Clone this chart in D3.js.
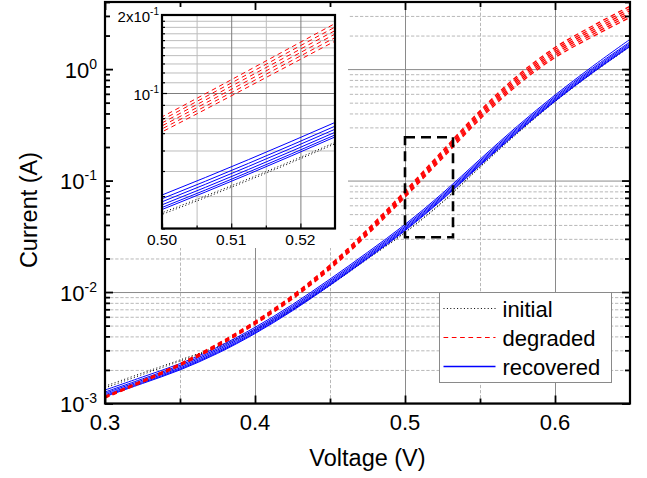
<!DOCTYPE html>
<html>
<head>
<meta charset="utf-8">
<script src="https://cdn.jsdelivr.net/npm/d3@7"></script>
<style>
  body { margin: 0; background: #fff; }
  svg { display: block; }
  text { font-family: "Liberation Sans", Arial, sans-serif; fill: #000; }
</style>
</head>
<body>
<svg id="chart" width="647" height="478"></svg>
<script>
// Bias points (V) shared by every I-V sweep
const voltage = [0.300, 0.325, 0.350, 0.375, 0.400, 0.425, 0.450, 0.475, 0.500, 0.525, 0.550, 0.575, 0.600, 0.625, 0.650];

// Current (A) of each cell, before stress
const initialRuns = [
  [1.43e-3, 1.88e-3, 2.46e-3, 3.25e-3, 4.62e-3, 7.05e-3, 0.01165, 0.02000, 0.0345, 0.0645, 0.1330, 0.268, 0.515, 0.930, 1.60],
  [1.38e-3, 1.82e-3, 2.40e-3, 3.18e-3, 4.52e-3, 6.90e-3, 0.01145, 0.01975, 0.0340, 0.0637, 0.1315, 0.265, 0.510, 0.920, 1.59]
];

// Current (A) after degradation
const degradedRuns = [
  [1.161e-3, 1.614e-3, 2.286e-3, 3.436e-3, 5.471e-3, 9.354e-3, 0.01754, 0.03664, 0.08091, 0.1854, 0.4237, 0.8729, 1.563, 2.438, 3.664],
  [1.153e-3, 1.601e-3, 2.265e-3, 3.398e-3, 5.400e-3, 9.209e-3, 0.01722, 0.03580, 0.07878, 0.1796, 0.4091, 0.8398, 1.499, 2.333, 3.500],
  [1.144e-3, 1.588e-3, 2.244e-3, 3.360e-3, 5.331e-3, 9.066e-3, 0.01691, 0.03499, 0.07669, 0.1741, 0.3951, 0.8080, 1.439, 2.232, 3.342],
  [1.136e-3, 1.575e-3, 2.224e-3, 3.324e-3, 5.263e-3, 8.925e-3, 0.01660, 0.03420, 0.07467, 0.1687, 0.3815, 0.7774, 1.380, 2.135, 3.192],
  [1.127e-3, 1.562e-3, 2.203e-3, 3.287e-3, 5.196e-3, 8.786e-3, 0.01629, 0.03342, 0.07271, 0.1635, 0.3684, 0.7479, 1.324, 2.043, 3.048],
  [1.119e-3, 1.549e-3, 2.183e-3, 3.251e-3, 5.129e-3, 8.650e-3, 0.01600, 0.03266, 0.07079, 0.1585, 0.3557, 0.7194, 1.270, 1.954, 2.911]
];

// Current (A) after recovery
const recoveredRuns = [
  [1.320e-3, 1.730e-3, 2.280e-3, 3.200e-3, 4.820e-3, 7.730e-3, 0.01307, 0.02271, 0.04040, 0.07698, 0.1553, 0.3086, 0.5853, 1.058, 1.850],
  [1.268e-3, 1.664e-3, 2.203e-3, 3.098e-3, 4.666e-3, 7.482e-3, 0.01265, 0.02198, 0.03908, 0.07447, 0.1503, 0.2986, 0.5663, 1.019, 1.754],
  [1.234e-3, 1.619e-3, 2.143e-3, 3.015e-3, 4.541e-3, 7.280e-3, 0.01231, 0.02138, 0.03803, 0.07247, 0.1462, 0.2905, 0.5510, 0.9913, 1.707],
  [1.201e-3, 1.576e-3, 2.086e-3, 2.934e-3, 4.420e-3, 7.086e-3, 0.01198, 0.02081, 0.03702, 0.07054, 0.1423, 0.2828, 0.5363, 0.9648, 1.662],
  [1.173e-3, 1.539e-3, 2.038e-3, 2.866e-3, 4.316e-3, 6.921e-3, 0.01170, 0.02033, 0.03615, 0.06889, 0.1390, 0.2762, 0.5238, 0.9423, 1.623],
  [1.152e-3, 1.512e-3, 2.001e-3, 2.815e-3, 4.240e-3, 6.798e-3, 0.01149, 0.01997, 0.03551, 0.06767, 0.1366, 0.2713, 0.5146, 0.9256, 1.594]
];

// Axis ticks
const xMajorTicks = [0.3, 0.4, 0.5, 0.6];
const xMinorTicks = [0.35, 0.45, 0.55];
const yDecadeTicks = [1e-3, 1e-2, 1e-1, 1e0];
const yDecadeExponents = ["-3", "-2", "-1", "0"];

// Inset ticks
const insetXMajorTicks = [0.50, 0.51, 0.52];
const insetXMinorTicks = [0.505, 0.515];
const insetYLabelTicks = [0.2, 0.1];
const insetYLabelMantissa = ["2x10", "10"];
const insetYMinorTicks = [0.03, 0.04, 0.05, 0.06, 0.07, 0.08, 0.09, 0.11, 0.12, 0.13, 0.14, 0.15, 0.16, 0.17, 0.18, 0.19];

// Region enlarged in the inset
const zoomVoltage = [0.500, 0.532];
const zoomCurrent = [0.031, 0.245];

const legendLabels = ["initial", "degraded", "recovered"];

const styles = {
  initial:   { color: "#000000", width: 1.0, dash: "1,2.4" },
  degraded:  { color: "#ff0000", width: 1.3, dash: "4.7,3.6" },
  recovered: { color: "#0000ff", width: 1.0, dash: null }
};

const svg = d3.select("#chart");

// ---------- main plot ----------
const x = d3.scaleLinear().domain([0.3, 0.65]).range([105, 630]);
const y = d3.scaleLog().domain([1e-3, 4]).range([403.5, 2]);
const [X0, X1] = x.range();
const [Y0, Y1] = y.range();

svg.append("defs").append("clipPath").attr("id", "mainClip")
  .append("rect").attr("x", X0).attr("y", Y1).attr("width", X1 - X0).attr("height", Y0 - Y1);

const isDecade = d => Math.abs(Math.log10(d) - Math.round(Math.log10(d))) < 1e-9;
const yMinor = y.ticks().filter(d => !isDecade(d));

const grid = svg.append("g");
// minor grid (dashed)
grid.append("g").call(d3.axisLeft(y).tickValues(yMinor).tickSize(-(X1 - X0)).tickFormat(""))
  .attr("transform", `translate(${X0},0)`)
  .call(g => g.select(".domain").remove())
  .call(g => g.selectAll("line").attr("stroke", "#b8b8b8").attr("stroke-dasharray", "3.3,1.8"));
grid.append("g").call(d3.axisBottom(x).tickValues(xMinorTicks).tickSize(-(Y0 - Y1)).tickFormat(""))
  .attr("transform", `translate(0,${Y0})`)
  .call(g => g.select(".domain").remove())
  .call(g => g.selectAll("line").attr("stroke", "#b8b8b8").attr("stroke-dasharray", "3.3,1.8"));
// major grid (solid)
grid.append("g").call(d3.axisLeft(y).tickValues(yDecadeTicks).tickSize(-(X1 - X0)).tickFormat(""))
  .attr("transform", `translate(${X0},0)`)
  .call(g => g.select(".domain").remove())
  .call(g => g.selectAll("line").attr("stroke", "#8a8a8a"));
grid.append("g").call(d3.axisBottom(x).tickValues(xMajorTicks).tickSize(-(Y0 - Y1)).tickFormat(""))
  .attr("transform", `translate(0,${Y0})`)
  .call(g => g.select(".domain").remove())
  .call(g => g.selectAll("line").attr("stroke", "#8a8a8a"));

function drawRuns(g, xs, ys, runs, st) {
  const line = d3.line().x(d => xs(d[0])).y(d => ys(d[1])).curve(d3.curveCatmullRom.alpha(0.5));
  g.selectAll(null).data(runs).join("path")
    .attr("d", r => line(d3.zip(voltage, r)))
    .attr("fill", "none")
    .attr("stroke", st.color)
    .attr("stroke-width", st.width)
    .attr("stroke-dasharray", st.dash);
}

const curves = svg.append("g").attr("clip-path", "url(#mainClip)");
drawRuns(curves.append("g"), x, y, initialRuns, styles.initial);
drawRuns(curves.append("g"), x, y, recoveredRuns, styles.recovered);
drawRuns(curves.append("g"), x, y, degradedRuns, styles.degraded);

// dashed frame marking the enlarged region
svg.append("rect")
  .attr("x", x(zoomVoltage[0])).attr("y", y(zoomCurrent[1]))
  .attr("width", x(zoomVoltage[1]) - x(zoomVoltage[0]))
  .attr("height", y(zoomCurrent[0]) - y(zoomCurrent[1]))
  .attr("fill", "none").attr("stroke", "#000").attr("stroke-width", 2.6)
  .attr("stroke-dasharray", "10,6");

// ---------- inset ----------
const xi = d3.scaleLinear().domain([0.500, 0.525]).range([162, 335]);
const yi = d3.scaleLog().domain([0.03, 0.2]).range([228.5, 15]);
const [XI0, XI1] = xi.range();
const [YI0, YI1] = yi.range();

const inset = svg.append("g");
inset.append("rect").attr("x", 108).attr("y", 3).attr("width", 240).attr("height", 245).attr("fill", "#fff");

svg.select("defs").append("clipPath").attr("id", "insetClip")
  .append("rect").attr("x", XI0).attr("y", YI1).attr("width", XI1 - XI0).attr("height", YI0 - YI1);

inset.append("g").call(d3.axisLeft(yi).tickValues(insetYMinorTicks).tickSize(-(XI1 - XI0)).tickFormat(""))
  .attr("transform", `translate(${XI0},0)`)
  .call(g => g.select(".domain").remove())
  .call(g => g.selectAll("line").attr("stroke", "#bdbdbd"));
inset.append("g").call(d3.axisBottom(xi).tickValues(insetXMinorTicks).tickSize(-(YI0 - YI1)).tickFormat(""))
  .attr("transform", `translate(0,${YI0})`)
  .call(g => g.select(".domain").remove())
  .call(g => g.selectAll("line").attr("stroke", "#bdbdbd"));
inset.append("g").call(d3.axisLeft(yi).tickValues([0.1]).tickSize(-(XI1 - XI0)).tickFormat(""))
  .attr("transform", `translate(${XI0},0)`)
  .call(g => g.select(".domain").remove())
  .call(g => g.selectAll("line").attr("stroke", "#7d7d7d"));
inset.append("g").call(d3.axisBottom(xi).tickValues(insetXMajorTicks.slice(1)).tickSize(-(YI0 - YI1)).tickFormat(""))
  .attr("transform", `translate(0,${YI0})`)
  .call(g => g.select(".domain").remove())
  .call(g => g.selectAll("line").attr("stroke", "#7d7d7d"));

const insetCurves = inset.append("g").attr("clip-path", "url(#insetClip)");
drawRuns(insetCurves.append("g"), xi, yi, initialRuns, styles.initial);
drawRuns(insetCurves.append("g"), xi, yi, recoveredRuns, styles.recovered);
drawRuns(insetCurves.append("g"), xi, yi, degradedRuns, { color: "#ff0000", width: 1, dash: "4.7,3.6" });

// inward tick marks without labels
function inwardTicks(g, axis, transform) {
  g.append("g").attr("transform", transform).call(axis)
    .call(s => s.select(".domain").remove())
    .call(s => s.selectAll("line").attr("stroke", "#000").attr("stroke-width", 1.2))
    .call(s => s.selectAll("text").remove());
}
inwardTicks(inset, d3.axisLeft(yi).tickValues(insetYMinorTicks).tickSize(-3), `translate(${XI0},0)`);
inwardTicks(inset, d3.axisLeft(yi).tickValues([0.1]).tickSize(-5), `translate(${XI0},0)`);
inwardTicks(inset, d3.axisBottom(xi).tickValues(insetXMinorTicks).tickSize(-3), `translate(0,${YI0})`);
inwardTicks(inset, d3.axisBottom(xi).tickValues(insetXMajorTicks).tickSize(-5), `translate(0,${YI0})`);

inset.append("rect").attr("x", XI0).attr("y", YI1).attr("width", XI1 - XI0).attr("height", YI0 - YI1)
  .attr("fill", "none").attr("stroke", "#000").attr("stroke-width", 2.2);

// inset tick labels
inset.append("g").selectAll("text").data(insetXMajorTicks).join("text")
  .attr("x", d => xi(d)).attr("y", YI0 + 16.5)
  .attr("text-anchor", "middle").attr("font-size", 15.5)
  .text(d3.format(".2f"));
insetYLabelTicks.forEach((t, i) => {
  const tx = inset.append("text").attr("x", 159).attr("y", yi(t) + 6.5)
    .attr("text-anchor", "end").attr("font-size", 15);
  tx.append("tspan").text(insetYLabelMantissa[i]);
  tx.append("tspan").attr("dy", -7).attr("font-size", 10).text("-1");
});

// ---------- main axes ----------
const axes = svg.append("g");
inwardTicks(axes, d3.axisBottom(x).tickValues(xMajorTicks).tickSize(-8), `translate(0,${Y0})`);
inwardTicks(axes, d3.axisBottom(x).tickValues(xMinorTicks).tickSize(-5), `translate(0,${Y0})`);
inwardTicks(axes, d3.axisTop(x).tickValues(xMajorTicks).tickSize(-8), `translate(0,${Y1})`);
inwardTicks(axes, d3.axisTop(x).tickValues(xMinorTicks).tickSize(-5), `translate(0,${Y1})`);
inwardTicks(axes, d3.axisLeft(y).tickValues(yDecadeTicks).tickSize(-8), `translate(${X0},0)`);
inwardTicks(axes, d3.axisLeft(y).tickValues(yMinor).tickSize(-5), `translate(${X0},0)`);
inwardTicks(axes, d3.axisRight(y).tickValues(yDecadeTicks).tickSize(-8), `translate(${X1},0)`);
inwardTicks(axes, d3.axisRight(y).tickValues(yMinor).tickSize(-5), `translate(${X1},0)`);
axes.selectAll("line").attr("stroke-width", 1.8);

axes.append("rect").attr("x", X0).attr("y", Y1).attr("width", X1 - X0).attr("height", Y0 - Y1)
  .attr("fill", "none").attr("stroke", "#000").attr("stroke-width", 2.2);

axes.append("g").selectAll("text").data(xMajorTicks).join("text")
  .attr("x", d => x(d)).attr("y", Y0 + 26)
  .attr("text-anchor", "middle").attr("font-size", 22)
  .text(d3.format(".1f"));

yDecadeTicks.forEach((t, i) => {
  const tx = axes.append("text").attr("x", 97).attr("y", y(t) + 8.5)
    .attr("text-anchor", "end").attr("font-size", 22);
  tx.append("tspan").text("10");
  tx.append("tspan").attr("dy", -9).attr("font-size", 14).text(yDecadeExponents[i]);
});

axes.append("text").attr("x", (X0 + X1) / 2).attr("y", 466)
  .attr("text-anchor", "middle").attr("font-size", 23.5).text("Voltage (V)");
axes.append("text").attr("transform", "translate(37,210) rotate(-90)")
  .attr("text-anchor", "middle").attr("font-size", 23.5).text("Current (A)");

// ---------- legend ----------
const legend = svg.append("g").attr("transform", "translate(439.5,292.5)");
legend.append("rect").attr("width", 172).attr("height", 90)
  .attr("fill", "#fff").attr("stroke", "#8a8a8a").attr("stroke-width", 1);
const legendStyles = [styles.initial, { color: "#ff0000", width: 1.2, dash: "4.7,3.6" }, { color: "#0000ff", width: 1.3, dash: null }];
legendLabels.forEach((lab, i) => {
  const ly = 16 + i * 29;
  legend.append("line").attr("x1", 4).attr("x2", 56).attr("y1", ly).attr("y2", ly)
    .attr("stroke", legendStyles[i].color).attr("stroke-width", legendStyles[i].width)
    .attr("stroke-dasharray", legendStyles[i].dash);
  legend.append("text").attr("x", 63).attr("y", ly + 8).attr("font-size", 22).text(lab);
});
</script>
</body>
</html>
